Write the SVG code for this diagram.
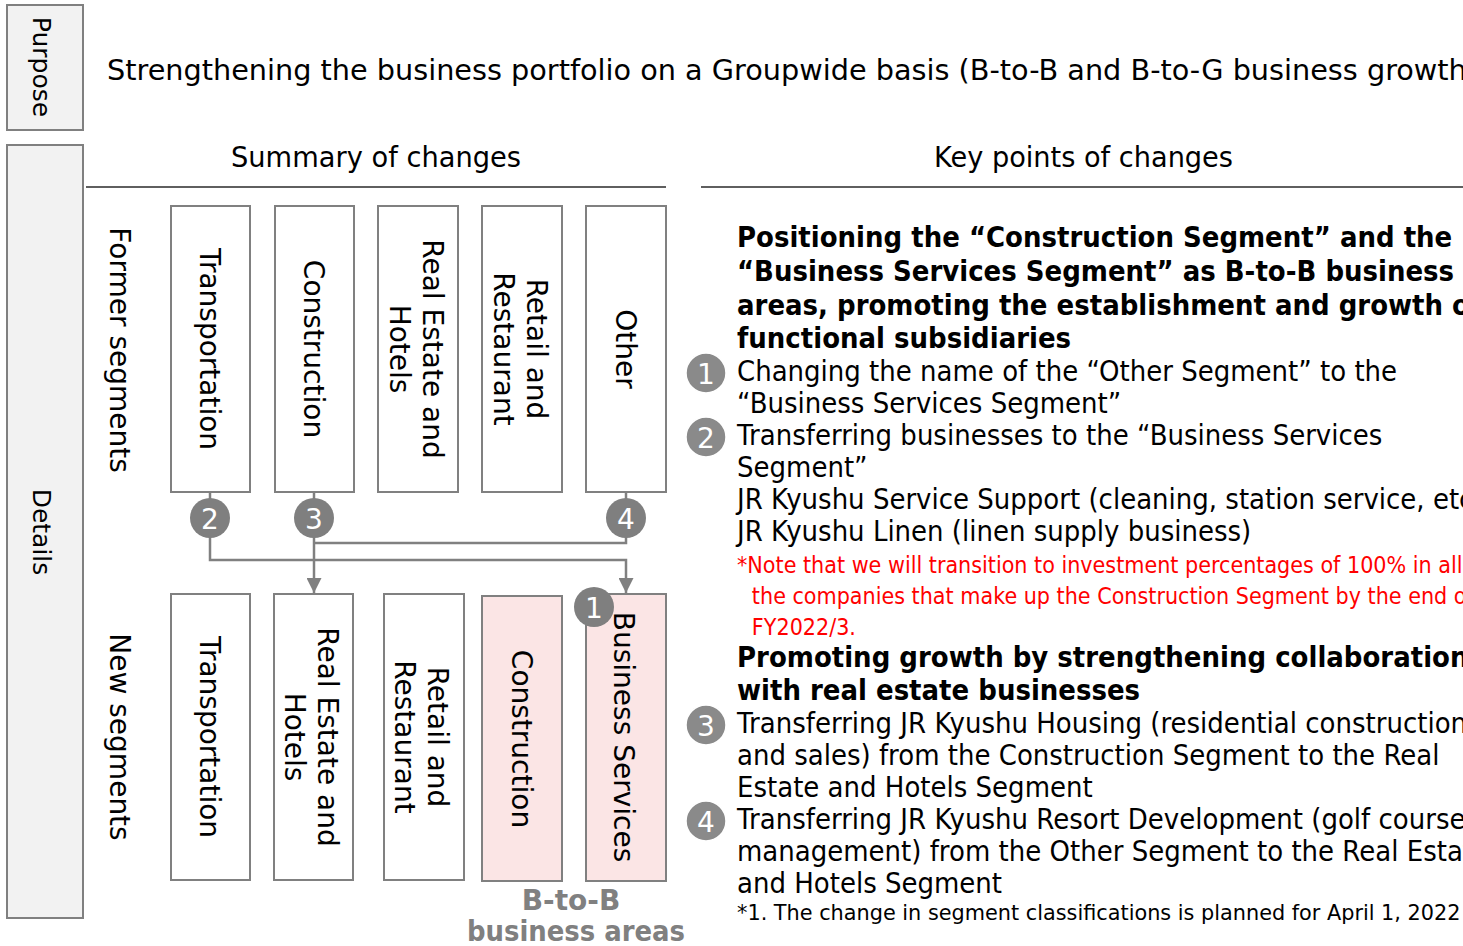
<svg xmlns="http://www.w3.org/2000/svg" width="1463" height="946" viewBox="0 0 1463 946">
<defs>
<style>
text{font-family:"DejaVu Sans","Liberation Sans",sans-serif;fill:#000}
.lbl{font-size:28px}
.vt{font-size:28px;text-anchor:middle;dominant-baseline:central}
.vs{font-size:25px;text-anchor:middle;dominant-baseline:central}
.side{fill:#f2f2f2;stroke:#808080;stroke-width:2}
.seg{fill:#fff;stroke:#808080;stroke-width:2}
.pink{fill:#fbe5e5;stroke:#808080;stroke-width:2}
.rule{stroke:#5f5f5f;stroke-width:2}
.conn{fill:none;stroke:#808080;stroke-width:2.5}
.badge{fill:#7f7f7f}
.badge2{fill:#8a8a8a;stroke:#fff;stroke-width:1.5}
.num{font-size:28px;fill:#fff;text-anchor:middle;dominant-baseline:central}
.body{font-size:28px}
.bold{font-size:28px;font-weight:bold}
.red{font-size:22.3px;fill:#ff0000}
.foot{font-size:22px}
.btob{font-size:28px;font-weight:bold;fill:#808080;text-anchor:middle}
</style>
<marker id="ah" viewBox="0 0 15 15" refX="15" refY="7.5" markerWidth="15" markerHeight="15" markerUnits="userSpaceOnUse" orient="auto">
<path d="M0,0 L15,7.5 L0,15 Z" fill="#808080"/>
</marker>
</defs>

<g id="purpose">
<rect class="side" x="7" y="5" width="76" height="125"/>
<text class="vs" transform="translate(41,67) rotate(90)">Purpose</text>
</g>
<g id="details">
<rect class="side" x="7" y="145" width="76" height="773"/>
<text class="vs" transform="translate(41,532) rotate(90)">Details</text>
</g>

<g id="title">
<text class="lbl" x="107" y="80" textLength="1371" lengthAdjust="spacingAndGlyphs">Strengthening the business portfolio on a Groupwide basis (B-to-B and B-to-G business growth)</text>
</g>

<g id="headers">
<text class="lbl" x="231" y="167" textLength="290" lengthAdjust="spacingAndGlyphs">Summary of changes</text>
<line class="rule" x1="86" y1="187" x2="666" y2="187"/>
<text class="lbl" x="934" y="167" textLength="299" lengthAdjust="spacingAndGlyphs">Key points of changes</text>
<line class="rule" x1="701" y1="187" x2="1463" y2="187"/>
</g>

<g id="row-labels">
<text class="vt" transform="translate(119,350) rotate(90)">Former segments</text>
<text class="vt" transform="translate(119,737) rotate(90)">New segments</text>
</g>

<g id="old-transportation">
<rect class="seg" x="171" y="206" width="79" height="286"/>
<text class="vt" transform="translate(209,349) rotate(90)">Transportation</text>
</g>
<g id="old-construction">
<rect class="seg" x="275" y="206" width="79" height="286"/>
<text class="vt" transform="translate(313,349) rotate(90)">Construction</text>
</g>
<g id="old-realestate">
<rect class="seg" x="378" y="206" width="80" height="286"/>
<text class="vt" transform="translate(417,349) rotate(90)"><tspan x="0" y="-16">Real Estate and</tspan><tspan x="0" y="17">Hotels</tspan></text>
</g>
<g id="old-retail">
<rect class="seg" x="482" y="206" width="80" height="286"/>
<text class="vt" transform="translate(521,349) rotate(90)"><tspan x="0" y="-16">Retail and</tspan><tspan x="0" y="17">Restaurant</tspan></text>
</g>
<g id="old-other">
<rect class="seg" x="586" y="206" width="80" height="286"/>
<text class="vt" transform="translate(625,349) rotate(90)">Other</text>
</g>

<g id="new-transportation">
<rect class="seg" x="171" y="594" width="79" height="286"/>
<text class="vt" transform="translate(209,737) rotate(90)">Transportation</text>
</g>
<g id="new-realestate">
<rect class="seg" x="274" y="594" width="79" height="286"/>
<text class="vt" transform="translate(312,737) rotate(90)"><tspan x="0" y="-16">Real Estate and</tspan><tspan x="0" y="17">Hotels</tspan></text>
</g>
<g id="new-retail">
<rect class="seg" x="384" y="594" width="80" height="286"/>
<text class="vt" transform="translate(422,737) rotate(90)"><tspan x="0" y="-16">Retail and</tspan><tspan x="0" y="17">Restaurant</tspan></text>
</g>
<g id="new-construction">
<rect class="pink" x="482" y="596" width="80" height="285"/>
<text class="vt" transform="translate(521,739) rotate(90)">Construction</text>
</g>
<g id="new-business-services">
<rect class="pink" x="586" y="594" width="80" height="287"/>
<text class="vt" transform="translate(623,737) rotate(90)">Business Services</text>
</g>

<g id="connectors">
<line class="conn" x1="210" y1="492" x2="210" y2="500"/>
<line class="conn" x1="314" y1="492" x2="314" y2="500"/>
<line class="conn" x1="626" y1="492" x2="626" y2="500"/>
<path class="conn" d="M210,536 V560 H626 V593" marker-end="url(#ah)"/>
<path class="conn" d="M314,536 V593" marker-end="url(#ah)"/>
<path class="conn" d="M626,536 V543 H314"/>
</g>

<g id="badge-2"><circle class="badge" cx="210" cy="518" r="20"/><text class="num" x="210" y="519">2</text></g>
<g id="badge-3"><circle class="badge" cx="314" cy="518" r="20"/><text class="num" x="314" y="519">3</text></g>
<g id="badge-4"><circle class="badge" cx="626" cy="518" r="20"/><text class="num" x="626" y="519">4</text></g>
<g id="badge-1"><circle class="badge" cx="594" cy="607" r="20"/><text class="num" x="594" y="608">1</text></g>

<g id="btob-label">
<text class="btob" x="571" y="910">B-to-B</text>
<text class="btob" x="467" y="941" style="text-anchor:start" textLength="218" lengthAdjust="spacingAndGlyphs">business areas</text>
</g>

<g id="right-badges">
<g id="rb1"><circle class="badge2" cx="706" cy="373" r="20"/><text class="num" x="706" y="374">1</text></g>
<g id="rb2"><circle class="badge2" cx="706" cy="437" r="20"/><text class="num" x="706" y="438">2</text></g>
<g id="rb3"><circle class="badge2" cx="706" cy="725" r="20"/><text class="num" x="706" y="726">3</text></g>
<g id="rb4"><circle class="badge2" cx="706" cy="821" r="20"/><text class="num" x="706" y="822">4</text></g>
</g>

<g id="key-points" transform="matrix(0.93,0,0,1,737,0)">
<text class="bold" x="0" y="247">Positioning the “Construction Segment” and the</text>
<text class="bold" x="0" y="281">“Business Services Segment” as B-to-B business</text>
<text class="bold" x="0" y="315">areas, promoting the establishment and growth of</text>
<text class="bold" x="0" y="348">functional subsidiaries</text>
<text class="body" x="0" y="381">Changing the name of the “Other Segment” to the</text>
<text class="body" x="0" y="413">“Business Services Segment”</text>
<text class="body" x="0" y="445">Transferring businesses to the “Business Services</text>
<text class="body" x="0" y="477">Segment”</text>
<text class="body" x="0" y="509">JR Kyushu Service Support (cleaning, station service, etc.)</text>
<text class="body" x="0" y="541">JR Kyushu Linen (linen supply business)</text>
<text class="red" x="0" y="573">*Note that we will transition to investment percentages of 100% in all of</text>
<text class="red" x="16" y="604">the companies that make up the Construction Segment by the end of</text>
<text class="red" x="16" y="635">FY2022/3.</text>
<text class="bold" x="0" y="667">Promoting growth by strengthening collaboration</text>
<text class="bold" x="0" y="700">with real estate businesses</text>
<text class="body" x="0" y="733">Transferring JR Kyushu Housing (residential construction</text>
<text class="body" x="0" y="765">and sales) from the Construction Segment to the Real</text>
<text class="body" x="0" y="797">Estate and Hotels Segment</text>
<text class="body" x="0" y="829">Transferring JR Kyushu Resort Development (golf course</text>
<text class="body" x="0" y="861">management) from the Other Segment to the Real Estate</text>
<text class="body" x="0" y="893">and Hotels Segment</text>
<text class="foot" x="0" y="920" textLength="778" lengthAdjust="spacingAndGlyphs">*1. The change in segment classifications is planned for April 1, 2022</text>
</g>
</svg>
